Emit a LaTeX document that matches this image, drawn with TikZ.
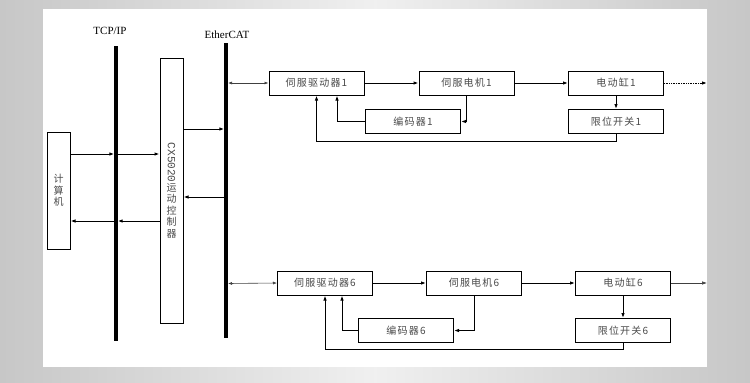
\documentclass[tikz,border=0pt]{standalone}
\usepackage{fontspec}
\setmainfont{Liberation Serif}
\newfontfamily\cjk[LetterSpace=12]{Noto Sans CJK SC}
\newfontfamily\monof{Liberation Mono}
\usepackage{graphicx}
\usepackage{tikz}
\usetikzlibrary{arrows.meta,calc}
\definecolor{cTx}{HTML}{4A4A4A}
\tikzset{
  box/.style={draw,line width=1pt,minimum width=95pt,minimum height=24pt,inner sep=0pt,font=\cjk\fontsize{10}{12}\selectfont,text=cTx},
  tallbox/.style={draw,line width=1pt,minimum width=23pt,inner sep=0pt,align=center,font=\cjk\fontsize{10}{11.5}\selectfont,text=cTx},
  bus/.style={line width=3.5pt},
  link/.style={line width=1pt,-{Latex[length=5pt,width=3.5pt]}},
  bilink/.style={line width=0.6pt,black!75,{Latex[length=4pt,width=3pt]}-{Latex[length=4pt,width=3pt]}},
  buslbl/.style={font=\fontsize{11}{13}\selectfont}
}

\begin{document}
\begin{tikzpicture}[x=1pt,y=-1pt]
  % page and slide background
  \useasboundingbox (0,0) rectangle (750,383);
  \shade[left color=black!22,right color=black!22,middle color=black!6] (0,0) rectangle (750,383);
  \fill[white] (43,9) rectangle (707,367);
  % the two buses
  \coordinate (tcpTop) at (116,46); \coordinate (tcpBot) at (116,341);
  \coordinate (ecTop) at (226,43); \coordinate (ecBot) at (226,338);
  \node[buslbl] (tcpLbl) at (110,31) {TCP/IP};
  \node[buslbl] (ecLbl) at (227,35) {EtherCAT};
  \draw[bus] (tcpTop) -- (tcpBot);
  \draw[bus] (ecTop) -- (ecBot);
  % host and controller
  \node[tallbox,minimum height=117pt] (pc) at (58.5,190.5) {计\\算\\机};
  \node[tallbox,minimum height=265pt] (ctrl) at (171.5,190.5) {\rotatebox{-90}{\monof\fontsize{11}{11}\selectfont CX5020}\\运\\动\\控\\制\\器};
  \coordinate (tcpIn) at (116,154); \coordinate (tcpOut) at (116,221);
  \coordinate (ecIn) at (226,129); \coordinate (ecOut) at (226,197);
  \coordinate (ec1) at (228,83); \coordinate (ec6) at (228,283.5);
  \draw[link,shorten >=1.7pt] (tcpIn -| pc.east) -- (tcpIn);
  \draw[link] (tcpIn) -- (tcpIn -| ctrl.west);
  \draw[link,shorten >=1.7pt] (tcpOut -| ctrl.west) -- (tcpOut);
  \draw[link] (tcpOut) -- (tcpOut -| pc.east);
  \draw[link,shorten >=1.7pt] (ecIn -| ctrl.east) -- (ecIn);
  \draw[link] (ecOut) -- (ecOut -| ctrl.east);
  % servo chain 1
  \node[box] (drv1) at (316.5,83) {伺服驱动器1};
  \node[box] (mot1) at (466.5,83) {伺服电机1};
  \node[box] (cyl1) at (616,83) {电动缸1};
  \node[box] (enc1) at (413,121.5) {编码器1};
  \node[box] (lim1) at (616,121.5) {限位开关1};
  \coordinate (out1) at (707,83);
  \draw[bilink] (ec1) -- (drv1.west);
  \draw[link] (drv1) -- (mot1);
  \draw[link] (mot1) -- (cyl1);
  \draw[link,dash pattern=on 1pt off 0.7pt] (cyl1) -- (out1);
  \draw[link] (mot1.south) |- (enc1.east);
  \draw[link] (enc1.west) -| ([xshift=20.5pt]drv1.south);
  \draw[link] (cyl1) -- (lim1);
  \draw[link] (lim1.south) -- ++(0,7) -| (drv1.south);
  % servo chain 6
  \node[box] (drv6) at (325,283) {伺服驱动器6};
  \node[box] (mot6) at (474,283) {伺服电机6};
  \node[box] (cyl6) at (623,283) {电动缸6};
  \node[box] (enc6) at (406,330.5) {编码器6};
  \node[box] (lim6) at (623,330.5) {限位开关6};
  \coordinate (out6) at (707,283);
  \draw[bilink] (ec6) -- (drv6.west);
  \draw[link] (drv6) -- (mot6);
  \draw[link] (mot6) -- (cyl6);
  \draw[link,line width=0.6pt,black!75] (cyl6) -- (out6);
  \draw[link] (mot6.south) |- (enc6.east);
  \draw[link] (enc6.west) -| ([xshift=17pt]drv6.south);
  \draw[link] (cyl6) -- (lim6);
  \draw[link] (lim6.south) -- ++(0,6) -| (drv6.south);
\end{tikzpicture}
\end{document}
